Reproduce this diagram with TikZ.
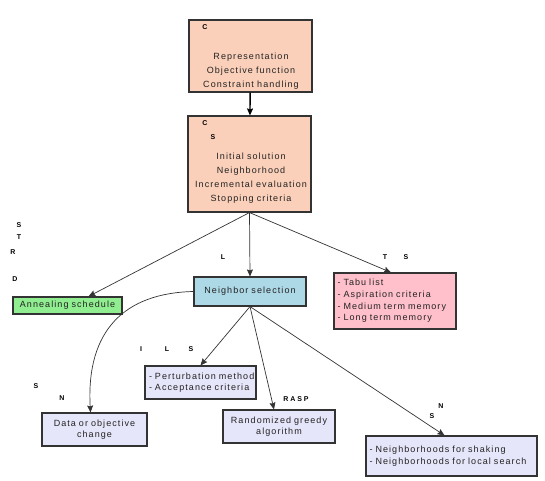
\documentclass[tikz,border=0pt]{standalone}
\usepackage{fontspec}
\usepackage{tikz}
\usetikzlibrary{arrows,arrows.meta,shapes,positioning}
\usepackage{xcolor}
\newfontfamily\boxfont[LetterSpace=12]{Liberation Sans}
\newfontfamily\tagfont{Liberation Sans}
\newcommand\stagefont{\boxfont\fontsize{9}{13.8}\selectfont\spaceskip=3.2pt plus 1pt\relax}
\newcommand\itemfont{\boxfont\fontsize{9}{11.6}\selectfont\spaceskip=4.5pt plus 1pt\relax}
\definecolor{stagepeach}{RGB}{251,208,186}
\definecolor{schedgreen}{RGB}{144,238,144}
\definecolor{selblue}{RGB}{173,216,230}
\definecolor{tabupink}{RGB}{255,192,203}
\definecolor{optlavender}{RGB}{230,230,250}
\definecolor{edgegray}{RGB}{51,51,51}
\definecolor{textgray}{RGB}{34,34,34}
\tikzstyle{arrow} = [line width=0.7pt,-{Stealth[length=7pt,width=6pt,inset=1pt]},color=edgegray]
\tikzstyle{stagebox} = [rectangle, draw=edgegray, fill=stagepeach, line width=1.1pt, inner sep=0pt]
\tikzstyle{stagetext} = [align=center, text=textgray, inner sep=0pt, font=\stagefont]
\tikzstyle{itembox} = [rectangle, draw=edgegray, line width=1.1pt, inner xsep=4pt, inner ysep=0pt, text=textgray, font=\itemfont]
\tikzstyle{tag} = [inner sep=0pt, font=\tagfont\bfseries\fontsize{7}{8}\selectfont]

\begin{document}
\begin{tikzpicture}[x=1pt,y=-1pt]
\useasboundingbox (0,0) rectangle (545,480);

% Stages
\node[stagebox, minimum width=123pt, minimum height=72pt] (conf) at (250.5,56) {};
\node[stagetext] (conftxt) at (251,71) {Representation\\Objective function\\Constraint handling};
\node[tag] (confC) at (205,27) {C};

\node[stagebox, minimum width=123pt, minimum height=96pt] (cstr) at (249.5,164) {};
\node[stagetext] (cstrtxt) at (251,178) {Initial solution\\Neighborhood\\Incremental evaluation\\Stopping criteria};
\node[tag] (cstrC) at (205,123) {C};
\node[tag] (cstrS) at (213,137) {S};

% Second level
\node[itembox, fill=schedgreen, text width=101pt, minimum height=17pt, align=center] (anneal) at (67.5,305.5) {Annealing schedule};
\node[tag] (saS) at (19,225) {S};
\node[tag] (saT) at (19,237) {T};
\node[tag] (saR) at (13,252) {R};
\node[tag] (saD) at (15,279) {D};

\node[itembox, fill=selblue, text width=104pt, minimum height=29pt, align=center] (nbr) at (250,291.5) {Neighbor selection};
\node[tag] (lsL) at (223,257) {L};

\node[itembox, fill=tabupink, text width=115pt, minimum height=56pt, inner xsep=3.5pt, align=left] (tabu) at (395,301) {- Tabu list\\- Aspiration criteria\\- Medium term memory\\- Long term memory};
\node[tag] (tsT) at (385,257) {T};
\node[tag] (tsS) at (406,257) {S};

% Third level
\node[itembox, fill=optlavender, text width=103pt, minimum height=33pt, align=left] (pert) at (200.5,382.5) {- Perturbation method\\- Acceptance criteria};
\node[tag] (ilsI) at (141,349) {I};
\node[tag] (ilsL) at (167,349) {L};
\node[tag] (ilsS) at (191,349) {S};

\node[itembox, fill=optlavender, text width=97pt, minimum height=33pt, align=center] (data) at (94.5,429.5) {Data or objective\\change};
\node[tag] (snS) at (36,386) {S};
\node[tag] (snN) at (62,398) {N};

\node[itembox, fill=optlavender, text width=104pt, minimum height=33pt, align=center] (rand) at (279,426.5) {Randomized greedy\\algorithm};
\node[tag] (grasp) at (296,399) {R A S P};

\node[itembox, fill=optlavender, text width=164pt, minimum height=40pt, inner xsep=3.5pt, align=left] (shake) at (451.5,456) {- Neighborhoods for shaking\\- Neighborhoods for local search};
\node[tag] (vnsN) at (441,406) {N};
\node[tag] (vnsS) at (432,416) {S};

% Arrows
\draw[arrow, line width=1.4pt, color=black] (conf) -- (cstr);
\draw[arrow] (cstr.south) -- ([xshift=21pt]anneal.north);
\draw[arrow] (cstr.south) -- (nbr.north);
\draw[arrow] (cstr.south) -- ([xshift=-4pt]tabu.north);
\draw[arrow] (nbr.south) -- (pert.north);
\draw[arrow] (nbr.south) -- ([xshift=-5pt]rand.north);
\draw[arrow] (nbr.south) -- ([xshift=-7pt]shake.north);
\draw[arrow] (nbr.west) .. controls (125,293) and (86,330) .. ([xshift=-4pt]data.north);
\end{tikzpicture}
\end{document}
